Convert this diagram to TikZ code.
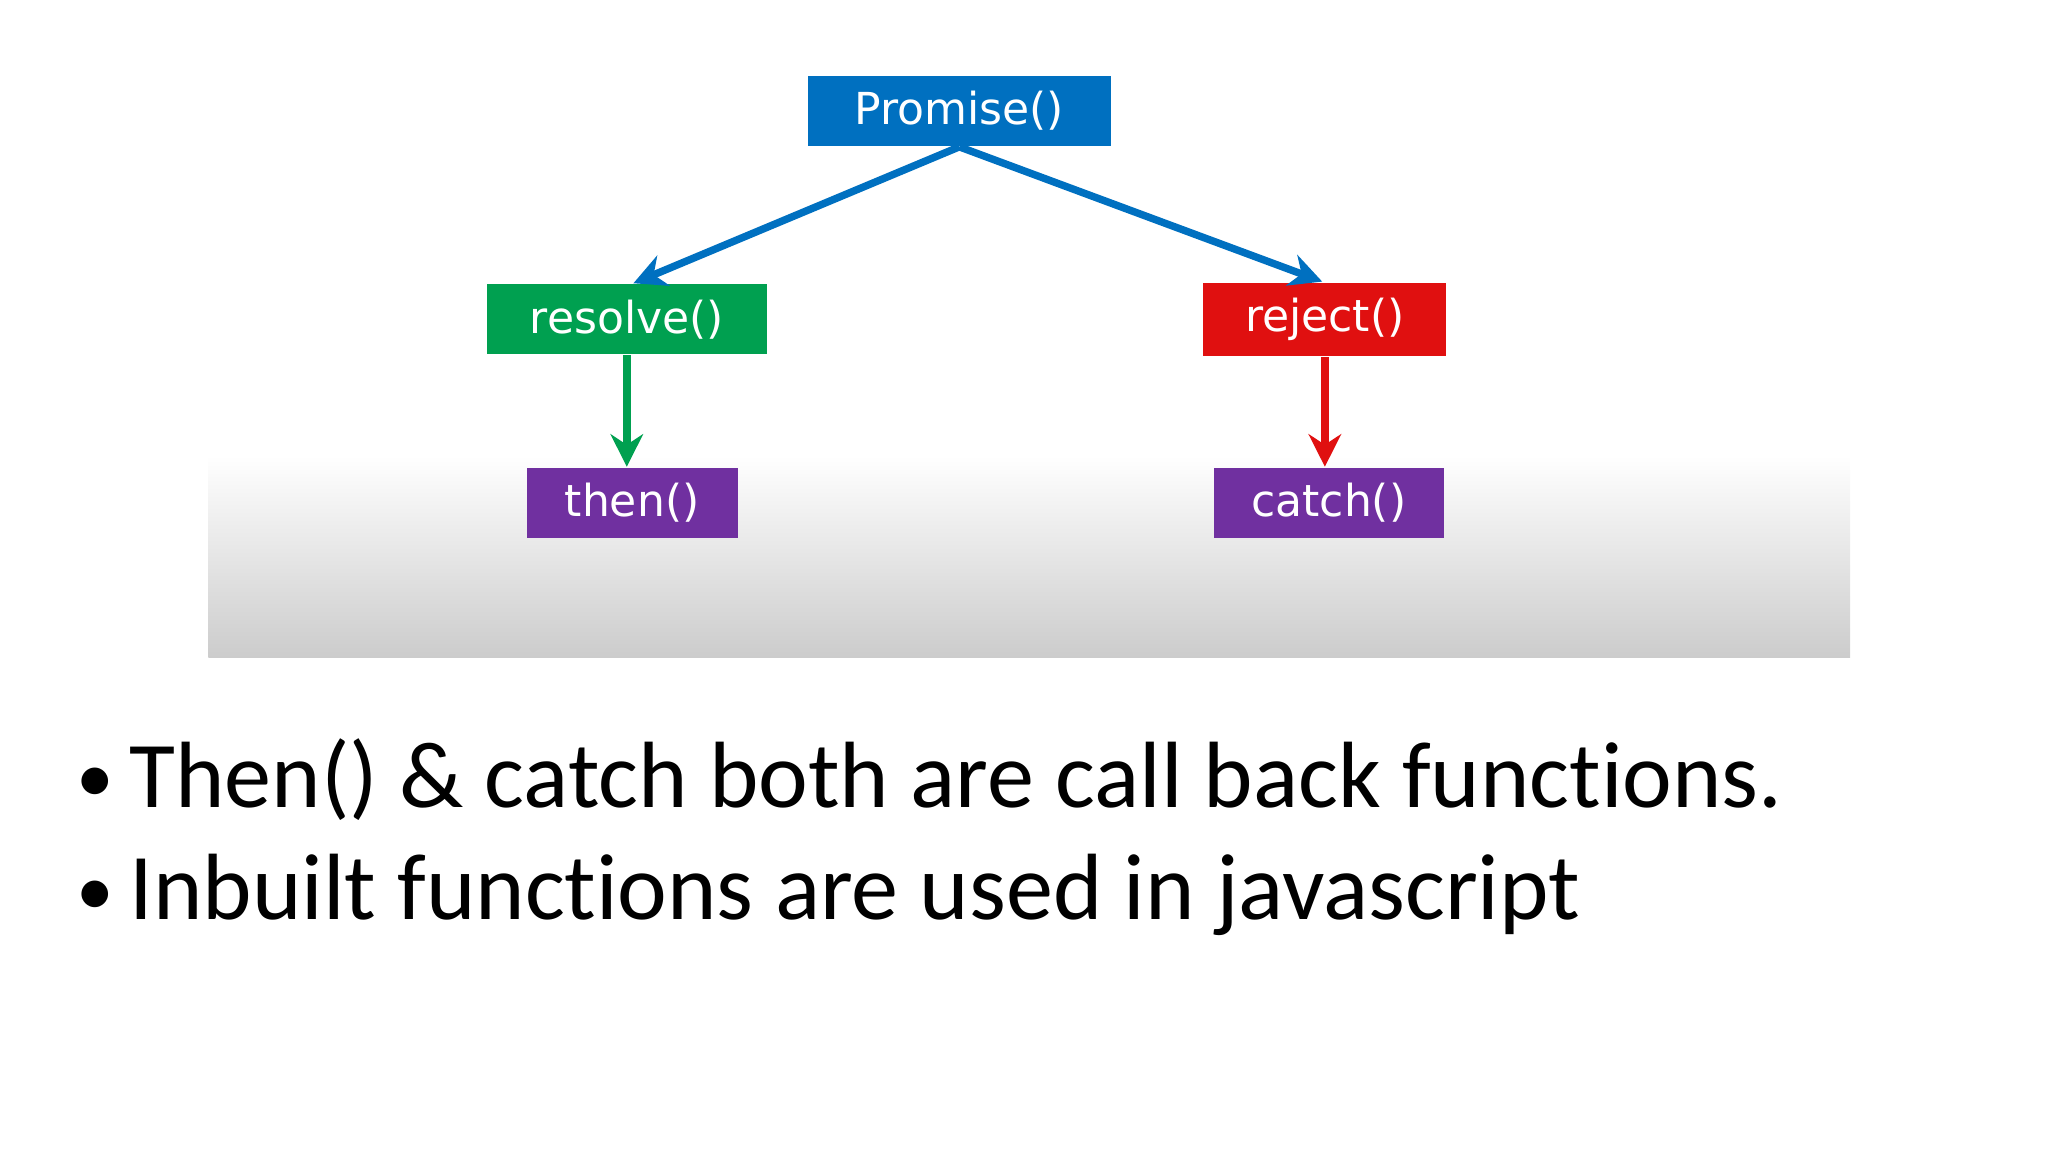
\documentclass[tikz,border=0pt]{standalone}
\usepackage{fontspec}
\setmainfont{Carlito}[Ligatures=NoCommon]
\newfontfamily\boxfont{DejaVu Sans}
\usetikzlibrary{positioning,arrows.meta}
\definecolor{promblue}{RGB}{0,112,192}
\definecolor{resgreen}{RGB}{0,160,80}
\definecolor{rejred}{RGB}{224,16,16}
\definecolor{cbpurple}{RGB}{112,48,160}
\tikzset{
    fbox/.style={draw=none, fill=#1, text=white, font=\boxfont\fontsize{9.5}{11}\selectfont, minimum height=0.53cm, inner xsep=0.2cm},
    farrow/.style={draw=#1, line width=1.6pt, -{Stealth[length=7pt,width=7pt]}},
    bullet/.style={anchor=base west, font=\fontsize{20.3}{24}\selectfont, inner sep=0pt}
}
\begin{document}
\begin{tikzpicture}
\useasboundingbox (0,0) rectangle (15.52,8.73);
\shade[top color=white, bottom color=black!20] (1.58,3.75) rectangle (14.02,5.28);
\node[fbox=promblue, minimum width=2.30cm] (promise) at (7.27,7.89) {Promise()};
\node[fbox=resgreen, minimum width=2.12cm] (resolve) at (4.75,6.31) {resolve()};
\node[fbox=rejred, minimum width=1.84cm] (reject) at (10.04,6.31) {reject()};
\node[fbox=cbpurple, minimum width=1.60cm] (then) at (4.79,4.92) {then()};
\node[fbox=cbpurple, minimum width=1.74cm] (catch) at (10.07,4.92) {catch()};
\draw[farrow=promblue] (promise.south) -- ([xshift=0.05cm]resolve.north);
\draw[farrow=promblue] (promise.south) -- ([xshift=-0.02cm]reject.north);
\draw[farrow=resgreen] (resolve.south) -- (resolve.south |- then.north);
\draw[farrow=rejred] (reject.south) -- (reject.south |- catch.north);
% bullet lines
\node[bullet] (first) at (0.57,2.61) {\raisebox{0.05em}{\scalebox{0.8}{\textbullet}}\hspace{0.12cm}Then() \& catch both are call back functions.};
\node[bullet] (second) at (0.57,1.76) {\raisebox{0.05em}{\scalebox{0.8}{\textbullet}}\hspace{0.12cm}Inbuilt functions are used in javascript};
\end{tikzpicture}
\end{document}
